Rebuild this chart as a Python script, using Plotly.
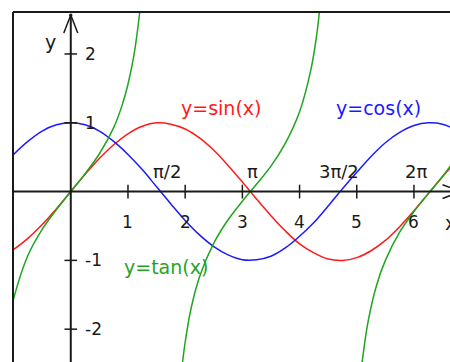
import plotly.graph_objects as go

# sample points
x_vals = [-1.25, -1.0, -0.75, -0.5, -0.25, 0.0, 0.25, 0.5, 0.75, 1.0, 1.25,
          1.5, 1.75, 2.0, 2.25, 2.5, 2.75, 3.0, 3.25, 3.5, 3.75, 4.0, 4.25,
          4.5, 4.75, 5.0, 5.25, 5.5, 5.75, 6.0, 6.25, 6.5, 6.75]
sin_vals = [-0.95, -0.84, -0.68, -0.48, -0.25, 0.0, 0.25, 0.48, 0.68, 0.84, 0.95,
            1.0, 0.98, 0.91, 0.78, 0.6, 0.38, 0.14, -0.11, -0.35, -0.57, -0.76, -0.89,
            -0.98, -1.0, -0.96, -0.86, -0.71, -0.51, -0.28, -0.03, 0.22, 0.45]
cos_vals = [0.32, 0.54, 0.73, 0.88, 0.97, 1.0, 0.97, 0.88, 0.73, 0.54, 0.32,
            0.07, -0.18, -0.42, -0.63, -0.8, -0.92, -0.99, -0.99, -0.94, -0.82, -0.65, -0.45,
            -0.21, 0.04, 0.28, 0.51, 0.71, 0.86, 0.96, 1.0, 0.98, 0.89]

# tan has three visible branches, split by None
tan_x = [-1.25, -1.1, -1.0, -0.75, -0.5, -0.25, 0.0, 0.25, 0.5, 0.75, 0.9, 1.0, 1.1, 1.2, 1.25, None,
         1.9, 1.95, 2.0, 2.1, 2.25, 2.5, 2.75, 3.0, 3.25, 3.5, 3.75, 4.0, 4.2, 4.3, 4.35, 4.4, None,
         5.0, 5.05, 5.1, 5.2, 5.35, 5.5, 5.75, 6.0, 6.25, 6.5, 6.75]
tan_vals = [-3.01, -1.96, -1.56, -0.93, -0.55, -0.26, 0.0, 0.26, 0.55, 0.93, 1.26, 1.56, 1.96, 2.57, 3.01, None,
            -2.93, -2.51, -2.19, -1.71, -1.24, -0.75, -0.41, -0.14, 0.11, 0.37, 0.7, 1.16, 1.78, 2.28, 2.64, 3.09, None,
            -3.39, -2.84, -2.44, -1.88, -1.35, -1.0, -0.59, -0.29, -0.03, 0.22, 0.5]

int_ticks = [1, 2, 3, 4, 5, 6]
y_ticks = [2, 1, -1, -2]
pi_labels = ["π/2", "π", "3π/2", "2π"]
pi_label_x = [1.69, 3.18, 4.69, 6.03]

RED, BLUE, GREEN, INK = "#ff1a1a", "#1a1aff", "#1fa51f", "#1a1a1a"
FONT = "DejaVu Sans"

fig = go.Figure()
fig.add_trace(go.Scatter(x=x_vals, y=sin_vals, mode="lines", line=dict(color=RED, width=1.5, shape="spline")))
fig.add_trace(go.Scatter(x=x_vals, y=cos_vals, mode="lines", line=dict(color=BLUE, width=1.5, shape="spline")))
fig.add_trace(go.Scatter(x=tan_x, y=tan_vals, mode="lines", connectgaps=False,
                         line=dict(color=GREEN, width=1.5, shape="spline")))

shapes = []
# frame: left and top border
shapes.append(dict(type="line", xref="paper", yref="paper", x0=0, x1=0, y0=0, y1=1,
                   line=dict(color=INK, width=2)))
shapes.append(dict(type="line", xref="paper", yref="paper", x0=0, x1=1, y0=1, y1=1,
                   line=dict(color=INK, width=2)))
# axes with open arrow heads
shapes.append(dict(type="line", x0=-1.1, x1=6.82, y0=0, y1=0, line=dict(color=INK, width=2)))
shapes.append(dict(type="line", x0=0, x1=0, y0=-2.6, y1=2.567, line=dict(color=INK, width=2)))
for s in (-1, 1):
    shapes.append(dict(type="line", x0=0, x1=0.122 * s, y0=2.567, y1=2.305, line=dict(color=INK, width=1.5)))
    shapes.append(dict(type="line", x0=6.82, x1=6.50, y0=0, y1=0.1 * s, line=dict(color=INK, width=1.5)))
shapes.append(dict(type="circle", x0=-0.03, x1=0.03, y0=2.545, y1=2.59, fillcolor=INK, line=dict(width=0)))
for t in int_ticks:
    shapes.append(dict(type="line", x0=t, x1=t, y0=-0.1, y1=0.1, line=dict(color=INK, width=1.5)))
for t in y_ticks:
    shapes.append(dict(type="line", x0=-0.11, x1=0.11, y0=t, y1=t, line=dict(color=INK, width=1.5)))

ann = []
for t in int_ticks:
    ann.append(dict(x=t, y=-0.44, text=str(t), showarrow=False, font=dict(size=17, color=INK)))
for t in y_ticks:
    ann.append(dict(x=0.22, y=t, text=str(t), xanchor="left", showarrow=False, font=dict(size=17, color=INK)))
for lab, px in zip(pi_labels, pi_label_x):
    ann.append(dict(x=px, y=0.29, text=lab, showarrow=False, font=dict(size=18, color=INK)))
ann.append(dict(x=-0.35, y=2.17, text="y", showarrow=False, font=dict(size=19, color=INK)))
ann.append(dict(x=6.5, y=-0.46, text="x", xanchor="left", showarrow=False, font=dict(size=19, color=INK)))
ann.append(dict(x=1.9, y=1.215, text="y=sin(x)", xanchor="left", showarrow=False, font=dict(size=19, color=RED)))
ann.append(dict(x=4.6, y=1.215, text="y=cos(x)", xanchor="left", showarrow=False, font=dict(size=19, color=BLUE)))
ann.append(dict(x=0.9, y=-1.1, text="y=tan(x)", xanchor="left", showarrow=False, font=dict(size=19, color=GREEN)))

fig.update_layout(
    width=450, height=362,
    margin=dict(l=13, r=0, t=12, b=0),
    paper_bgcolor="white", plot_bgcolor="white",
    showlegend=False,
    font=dict(family=FONT),
    shapes=shapes, annotations=ann,
    xaxis=dict(range=[-1.01, 6.63], visible=False, fixedrange=True),
    yaxis=dict(range=[-2.477, 2.61], visible=False, fixedrange=True),
)

# drop the default page margin so the figure sits at the window's corner
fig.write_html("out.html", config={"displayModeBar": False},
               post_script="document.body.style.margin='0';document.body.style.overflow='hidden';")
